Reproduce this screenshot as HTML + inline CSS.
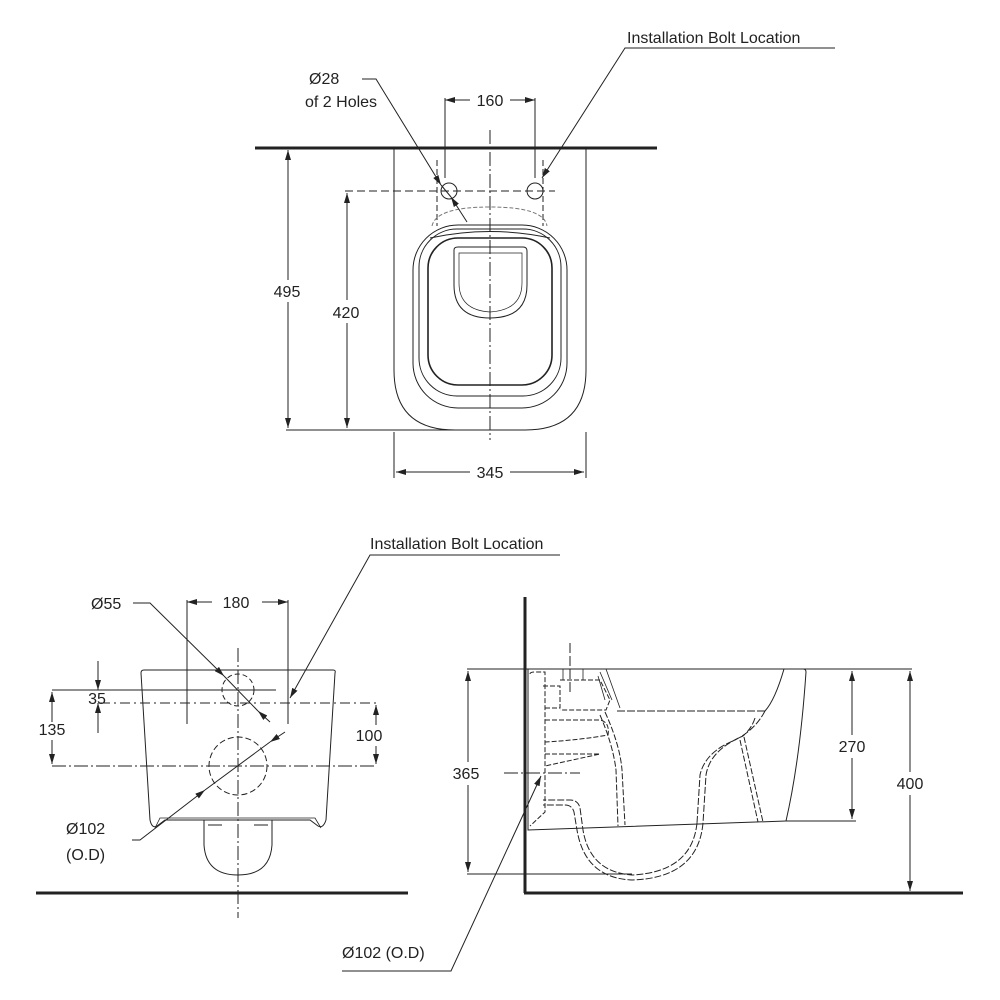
<!DOCTYPE html>
<html><head><meta charset="utf-8"><style>
html,body{margin:0;padding:0;background:#fff;}
svg{display:block;}
text{font-family:"Liberation Sans",sans-serif;font-size:16px;fill:#222;}
</style></head><body>
<svg width="1000" height="1000" viewBox="0 0 1000 1000" xmlns="http://www.w3.org/2000/svg">
<defs>
<marker id="a" viewBox="0 0 10 6" refX="10" refY="3" markerWidth="10" markerHeight="6" markerUnits="userSpaceOnUse" orient="auto-start-reverse"><path d="M0,0 L10,3 L0,6 z" fill="#222"/></marker>
</defs>
<g fill="none" stroke="#222" stroke-width="1">
<!-- ============ TOP VIEW ============ -->
<line x1="255" y1="148" x2="657" y2="148" stroke-width="3"/>
<path d="M394,148 V370 Q394,430 455,430 H525 Q586,430 586,370 V148"/>
<line x1="490" y1="130" x2="490" y2="440" stroke-dasharray="14,3,2,3"/>
<circle cx="449" cy="191" r="8"/>
<circle cx="535" cy="191" r="8"/>
<line x1="345" y1="191" x2="555" y2="191" stroke-dasharray="8,4"/>
<line x1="437" y1="160" x2="437" y2="226" stroke-dasharray="6,3"/>
<line x1="543" y1="160" x2="543" y2="226" stroke-dasharray="6,3"/>
<line x1="445" y1="98" x2="445" y2="178"/>
<line x1="535" y1="98" x2="535" y2="178"/>
<line x1="445" y1="100" x2="470" y2="100" marker-start="url(#a)"/>
<line x1="510" y1="100" x2="535" y2="100" marker-end="url(#a)"/>
<path d="M432,226 Q436,207 490,207 Q544,207 547,226" stroke-dasharray="4,2" stroke="#777"/>
<rect x="413" y="225" width="154" height="183" rx="45"/>
<rect x="419" y="229" width="142" height="167" rx="38"/>
<rect x="428" y="238" width="124" height="147" rx="30" stroke-width="1.6"/>
<path d="M430,238 Q490,225 550,238" />
<path d="M454,250 Q454,247 458,247 H523 Q527,247 527,251 V285 Q527,318 490,318 Q454,318 454,285 Z"/>
<path d="M459,253 H522 V283 Q522,310 490,312 Q459,310 459,283 Z" stroke-width="0.7"/>
<line x1="286" y1="430" x2="490" y2="430"/>
<line x1="288" y1="150" x2="288" y2="280" marker-start="url(#a)"/>
<line x1="288" y1="302" x2="288" y2="428" marker-end="url(#a)"/>
<line x1="347" y1="193" x2="347" y2="300" marker-start="url(#a)"/>
<line x1="347" y1="323" x2="347" y2="428" marker-end="url(#a)"/>
<line x1="394" y1="432" x2="394" y2="478"/>
<line x1="586" y1="432" x2="586" y2="478"/>
<line x1="396" y1="472" x2="470" y2="472" marker-start="url(#a)"/>
<line x1="510" y1="472" x2="584" y2="472" marker-end="url(#a)"/>
<path d="M362,79 H376 L441,185" marker-end="url(#a)"/>
<line x1="467" y1="222" x2="451" y2="197" marker-end="url(#a)"/>
<line x1="441" y1="185" x2="451" y2="197"/>
<path d="M835,48 H625 L542,178" marker-end="url(#a)"/>

<!-- ============ FRONT VIEW ============ -->
<line x1="36" y1="893" x2="408" y2="893" stroke-width="3"/>
<path d="M144,670 H333 Q336,670 335,673 L326,820 M144,670 Q141,670 141,673 L150,820"/>
<path d="M150,820 Q152,829 157,826 L165,820 H310 L318,826 Q323,829 326,820"/>
<path d="M155,828 L160,818 H315 L321,828" stroke-width="0.8"/>
<path d="M204,820 V845 Q206,875 238,875 Q270,875 272,845 V820"/>
<line x1="208" y1="825" x2="222" y2="825"/><line x1="254" y1="825" x2="268" y2="825"/>
<line x1="238" y1="648" x2="238" y2="918" stroke-dasharray="14,3,2,3"/>
<circle cx="238" cy="690" r="16" stroke-dasharray="5,3"/>
<circle cx="238" cy="766" r="29" stroke-dasharray="6,3"/>
<line x1="187" y1="600" x2="187" y2="724"/>
<line x1="288" y1="600" x2="288" y2="724"/>
<line x1="187" y1="602" x2="212" y2="602" marker-start="url(#a)"/>
<line x1="262" y1="602" x2="288" y2="602" marker-end="url(#a)"/>
<line x1="52" y1="690" x2="276" y2="690"/>
<line x1="100" y1="703" x2="377" y2="703" stroke-dasharray="10,4,2,4"/>
<line x1="52" y1="766" x2="377" y2="766" stroke-dasharray="14,3,2,3"/>
<line x1="98" y1="661" x2="98" y2="690" marker-end="url(#a)"/>
<line x1="98" y1="733" x2="98" y2="703" marker-end="url(#a)"/>
<line x1="52" y1="722" x2="52" y2="692" marker-end="url(#a)"/>
<line x1="52" y1="740" x2="52" y2="764" marker-end="url(#a)"/>
<line x1="376" y1="725" x2="376" y2="705" marker-end="url(#a)"/>
<line x1="376" y1="746" x2="376" y2="764" marker-end="url(#a)"/>
<path d="M133,603 H150 L224,676" marker-end="url(#a)"/>
<line x1="270" y1="722" x2="258" y2="711" marker-end="url(#a)"/>
<line x1="224" y1="676" x2="258" y2="711"/>
<path d="M132,840 H140 L205,790" marker-end="url(#a)"/>
<line x1="285" y1="732" x2="270" y2="742" marker-end="url(#a)"/>
<line x1="205" y1="790" x2="270" y2="742"/>
<path d="M560,555 H370 L290,698" marker-end="url(#a)"/>

<!-- ============ SIDE VIEW ============ -->
<line x1="525" y1="597" x2="525" y2="893" stroke-width="3"/>
<line x1="524" y1="893" x2="963" y2="893" stroke-width="3"/>
<line x1="467" y1="669" x2="912" y2="669"/>
<line x1="467" y1="874" x2="632" y2="874"/>
<line x1="786" y1="821" x2="856" y2="821"/>
<line x1="468" y1="671" x2="468" y2="762" marker-start="url(#a)"/>
<line x1="468" y1="785" x2="468" y2="872" marker-end="url(#a)"/>
<line x1="852" y1="671" x2="852" y2="735" marker-start="url(#a)"/>
<line x1="852" y1="758" x2="852" y2="819" marker-end="url(#a)"/>
<line x1="910" y1="671" x2="910" y2="772" marker-start="url(#a)"/>
<line x1="910" y1="795" x2="910" y2="891" marker-end="url(#a)"/>
<path d="M528,669 V830 L786,821"/>
<path d="M786,821 Q800,760 806,672 Q806,669 803,669"/>
<path d="M784,669 Q775,700 765,711"/>
<path d="M765,711 H615" stroke-dasharray="8,2"/>
<path d="M765,711 Q755,730 735,740 Q705,752 700,775 L697,823 M755,718 Q752,728 743,736 Q710,750 706,775 L703,823" stroke-dasharray="7,2"/>
<path d="M744,737 L763,822 M740,740 L758,822" stroke-dasharray="6,2"/>
<path d="M605,712 Q620,745 622,770 L625,825 M600,715 Q613,745 616,770 L618,826" stroke-dasharray="6,2"/>
<path d="M697,823 Q692,872 632,875 Q590,872 583,830 L580,808 Q578,800 570,800 H543 M703,823 Q698,878 632,880 Q585,878 577,830 L574,812 Q572,805 565,805 H543" stroke-dasharray="7,2"/>
<path d="M530,674 Q530,672 535,672 H545 V812 L530,826" stroke-dasharray="5,2"/>
<path d="M543,686 H560 V708 H543 M560,680 H600 L610,700 L606,710 H560" stroke-dasharray="5,2"/>
<path d="M545,720 H600 Q610,722 608,735 Q580,740 545,742" stroke-dasharray="5,2"/>
<path d="M545,754 H600 L545,766" stroke-dasharray="5,2"/>
<path d="M563,669 V680 M583,669 V680 M600,672 L612,700 M606,669 L620,708 M598,676 L605,700" stroke-width="0.8"/>
<line x1="570" y1="643" x2="570" y2="693" stroke-dasharray="10,3"/>
<line x1="504" y1="773" x2="580" y2="773" stroke-dasharray="14,3,2,3"/>
<path d="M342,971 H451 L541,776" marker-end="url(#a)"/>
</g>
<g>
<text x="627" y="43">Installation Bolt Location</text>
<text x="309" y="84">Ø28</text>
<text x="305" y="107">of 2 Holes</text>
<text x="490" y="106" text-anchor="middle">160</text>
<text x="287" y="297" text-anchor="middle">495</text>
<text x="346" y="318" text-anchor="middle">420</text>
<text x="490" y="478" text-anchor="middle">345</text>
<text x="370" y="549">Installation Bolt Location</text>
<text x="91" y="609">Ø55</text>
<text x="236" y="608" text-anchor="middle">180</text>
<text x="97" y="704" text-anchor="middle">35</text>
<text x="52" y="735" text-anchor="middle">135</text>
<text x="369" y="741" text-anchor="middle">100</text>
<text x="66" y="834">Ø102</text>
<text x="66" y="860">(O.D)</text>
<text x="466" y="779" text-anchor="middle">365</text>
<text x="852" y="752" text-anchor="middle">270</text>
<text x="910" y="789" text-anchor="middle">400</text>
<text x="342" y="958">Ø102 (O.D)</text>
</g>
</svg>
</body></html>
